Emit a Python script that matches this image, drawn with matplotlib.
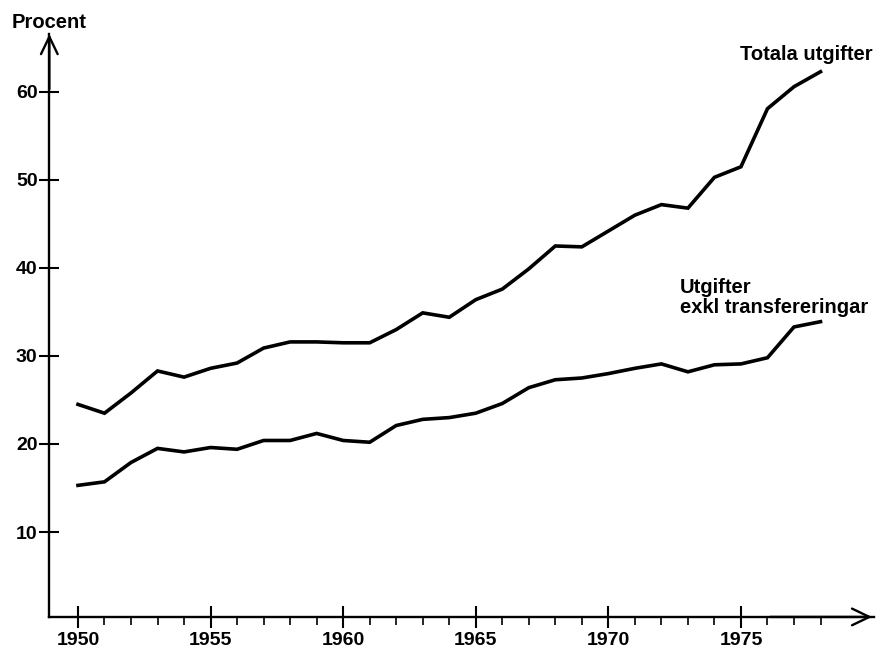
import matplotlib.pyplot as plt
import numpy as np

plt.rcParams['font.family'] = ['Liberation Sans', 'DejaVu Sans']
plt.rcParams['font.weight'] = 'bold'

years = list(range(1950, 1979))
totala = [24.5, 23.5, 25.8, 28.3, 27.6, 28.6, 29.2, 30.9, 31.6, 31.6,
          31.5, 31.5, 33.0, 34.9, 34.4, 36.4, 37.6, 39.9, 42.5, 42.4,
          44.2, 46.0, 47.2, 46.8, 50.3, 51.5, 58.1, 60.6, 62.3]
exkl = [15.3, 15.7, 17.9, 19.5, 19.1, 19.6, 19.4, 20.4, 20.4, 21.2,
        20.4, 20.2, 22.1, 22.8, 23.0, 23.5, 24.6, 26.4, 27.3, 27.5,
        28.0, 28.6, 29.1, 28.2, 29.0, 29.1, 29.8, 33.3, 33.9]

yticks = [10, 20, 30, 40, 50, 60]
xticks = [1950, 1955, 1960, 1965, 1970, 1975]

fig = plt.figure(figsize=(877 / 100, 648 / 100), dpi=100)
ax = fig.add_axes([0, 0, 1, 1])
ax.set_xlim(1947.06, 1980.13)
ax.set_ylim(-3.18, 70.45)
ax.patch.set_visible(False)

x0, y0 = 1948.92, 0.35
ax.plot(years, totala, color='black', lw=2.6, solid_joinstyle='miter')
ax.plot(years, exkl, color='black', lw=2.6, solid_joinstyle='miter')

# axlar
ax.spines['top'].set_visible(False)
ax.spines['right'].set_visible(False)
ax.spines['left'].set_position(('data', x0))
ax.spines['bottom'].set_position(('data', y0))
ax.spines['left'].set_bounds(y0, 66.6)
ax.spines['bottom'].set_bounds(x0, 1980.0)
ax.spines['left'].set_linewidth(1.7)
ax.spines['bottom'].set_linewidth(1.7)

ax.set_yticks(yticks)
ax.set_xticks(xticks)
ax.set_xticks(years, minor=True)
ax.tick_params(axis='y', direction='inout', length=15, width=1.5, pad=1, labelsize=14)
ax.tick_params(axis='x', which='major', direction='inout', length=16, width=1.5, pad=3, labelsize=14)
ax.tick_params(axis='x', which='minor', direction='out', length=5.5, width=1.2)

pil = dict(arrowstyle='->,head_length=1.25,head_width=0.6', lw=1.7, color='black')
ax.annotate('', xy=(x0, 66.9), xytext=(x0, 60), arrowprops=pil)
ax.annotate('', xy=(1980.05, y0), xytext=(1976, y0), arrowprops=pil)

ax.text(x0, 67.3, 'Procent', fontsize=14.5, ha='center', va='baseline')
ax.text(1979.98, 63.64, 'Totala utgifter', fontsize=14.5, ha='right', va='baseline')
ax.text(1972.70, 37.16, 'Utgifter', fontsize=14.5, ha='left', va='baseline')
ax.text(1972.70, 34.89, 'exkl transfereringar', fontsize=14.5, ha='left', va='baseline')

fig.savefig('out.png', dpi=100)
